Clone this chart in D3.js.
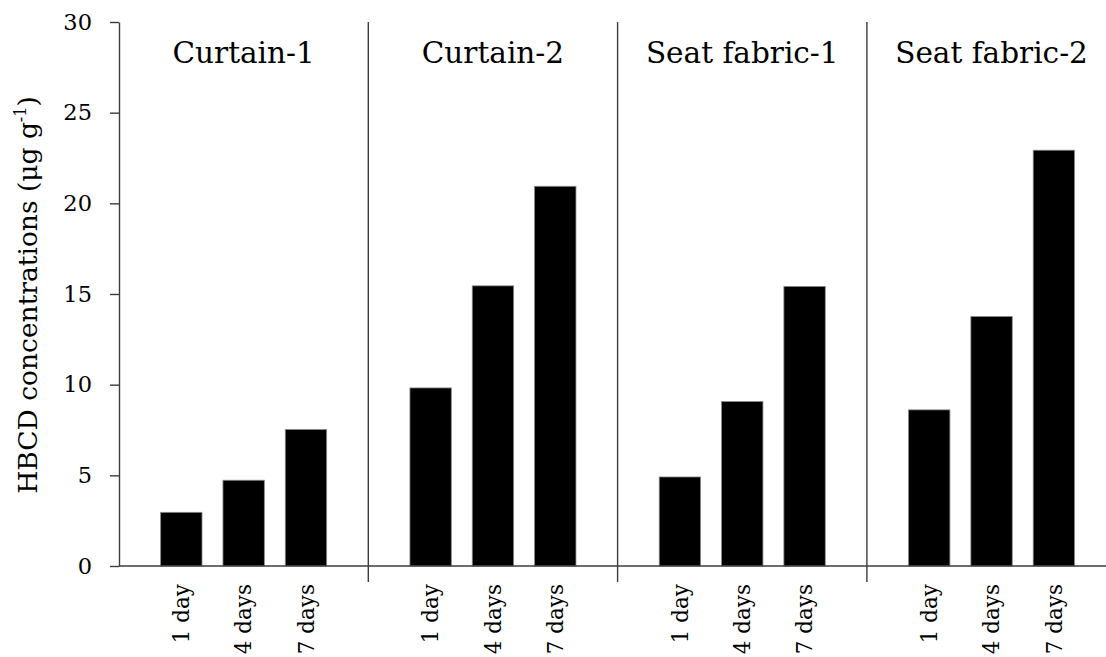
<!DOCTYPE html>
<html>
<head>
<meta charset="utf-8">
<script src="https://cdn.jsdelivr.net/npm/d3@7"></script>
<style>
  html, body { margin: 0; padding: 0; background: #fff; }
  svg { display: block; }
  text { font-family: "DejaVu Serif", "Liberation Serif", serif; fill: #000; }
</style>
</head>
<body>
<div id="chart"></div>
<script>
// HBCD concentrations by material and exposure time

// Data
const groups = ['Curtain-1', 'Curtain-2', 'Seat fabric-1', 'Seat fabric-2'];
const durations = ['1 day', '4 days', '7 days'];
const curtain1 = [2.96, 4.73, 7.53];
const curtain2 = [9.82, 15.45, 20.94];
const seatFabric1 = [4.91, 9.07, 15.42];
const seatFabric2 = [8.61, 13.76, 22.93];
const yTicks = [0, 5, 10, 15, 20, 25, 30];

const seriesByGroup = [curtain1, curtain2, seatFabric1, seatFabric2];

// Layout
const chartWidth = 1106;
const chartHeight = 657;
const plotLeft = 119;
const plotTop = 22;
const plotBottom = 566;
const groupWidth = 249.3;
const axisColor = '#3c3c3c';

const rows = [];
groups.forEach((g, gi) => {
  durations.forEach((d, di) => {
    rows.push({ group: g, duration: d, value: seriesByGroup[gi][di] });
  });
});

const svg = d3.select('#chart')
  .append('svg')
  .attr('width', chartWidth)
  .attr('height', chartHeight);

// Scales
const x0 = d3.scaleBand()
  .domain(groups)
  .range([plotLeft, plotLeft + groupWidth * groups.length])
  .padding(0);

// each group is split in 4 steps, bars sit on the inner points
const x1 = d3.scalePoint()
  .domain(['', ...durations, ' '])
  .range([0, x0.bandwidth()]);

const barWidth = x1.step() * 0.664;

const y = d3.scaleLinear()
  .domain([0, 30])
  .range([plotBottom, plotTop]);

// Bars
svg.append('g')
  .selectAll('rect')
  .data(rows)
  .enter()
  .append('rect')
  .attr('x', d => x0(d.group) + x1(d.duration) - barWidth / 2)
  .attr('y', d => y(d.value))
  .attr('width', barWidth)
  .attr('height', d => y(0) - y(d.value))
  .attr('fill', '#000')
  .attr('stroke', '#8a8a8a')
  .attr('stroke-width', 0.8);

// Y axis
const yAxis = svg.append('g')
  .attr('transform', `translate(${plotLeft},0)`)
  .call(d3.axisLeft(y).tickValues(yTicks).tickSize(9).tickPadding(18).tickSizeOuter(0));

yAxis.select('.domain').attr('stroke', axisColor).attr('stroke-width', 1.4);
yAxis.selectAll('.tick line').attr('stroke', axisColor).attr('stroke-width', 1.4);
yAxis.selectAll('.tick text')
  .attr('font-size', 22.5)
  .attr('font-family', '"DejaVu Serif", serif')
  .attr('fill', '#000');

// X axis baseline
svg.append('line')
  .attr('x1', plotLeft)
  .attr('x2', chartWidth)
  .attr('y1', y(0))
  .attr('y2', y(0))
  .attr('stroke', axisColor)
  .attr('stroke-width', 1.4);

// Group separators
svg.append('g')
  .selectAll('line')
  .data(groups.slice(1))
  .enter()
  .append('line')
  .attr('x1', d => x0(d))
  .attr('x2', d => x0(d))
  .attr('y1', plotTop)
  .attr('y2', plotBottom + 16)
  .attr('stroke', axisColor)
  .attr('stroke-width', 1.4);

// Group titles
svg.append('g')
  .selectAll('text')
  .data(groups)
  .enter()
  .append('text')
  .attr('x', d => x0(d) + x0.bandwidth() / 2)
  .attr('y', 63)
  .attr('text-anchor', 'middle')
  .attr('font-size', 29.5)
  .text(d => d);

// Duration labels (rotated)
svg.append('g')
  .selectAll('text')
  .data(rows)
  .enter()
  .append('text')
  .attr('transform', d => `translate(${x0(d.group) + x1(d.duration)},584) rotate(-90)`)
  .attr('dy', '0.36em')
  .attr('text-anchor', 'end')
  .attr('font-size', 21.5)
  .text(d => d.duration);

// Y axis title
const yTitle = svg.append('text')
  .attr('transform', `translate(37,295) rotate(-90)`)
  .attr('text-anchor', 'middle')
  .attr('font-size', 26.5);

yTitle.append('tspan').text('HBCD concentrations (μg g');
yTitle.append('tspan').attr('font-size', 16).attr('dy', -11).text('-1');
yTitle.append('tspan').attr('dy', 11).text(')');
</script>
</body>
</html>
